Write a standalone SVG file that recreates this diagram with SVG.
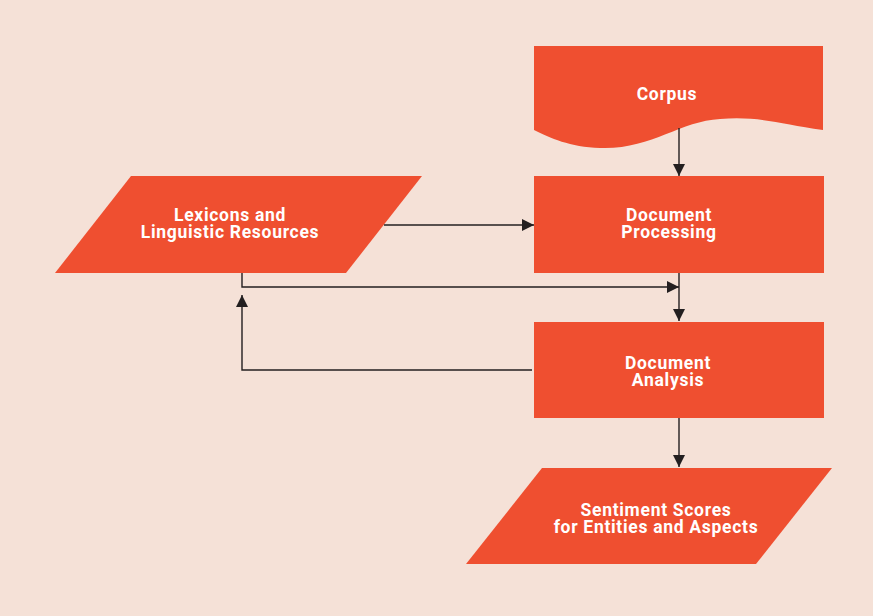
<svg xmlns="http://www.w3.org/2000/svg" width="873" height="616" viewBox="0 0 873 616">
<defs>
<style>
.node{fill:#EF4F30}
.lbl{fill:#FFFFFF;font-family:Roboto,"Liberation Sans",sans-serif;font-weight:700;font-size:17.5px;letter-spacing:0.7px;text-anchor:middle}
.edge{fill:none;stroke:#231F20;stroke-width:1.4}
</style>
<marker id="ah" viewBox="0 0 12 12" refX="12" refY="6" markerWidth="12" markerHeight="12" markerUnits="userSpaceOnUse" orient="auto">
<path d="M0,0 L12,6 L0,12 Z" fill="#231F20"/>
</marker>
</defs>
<rect width="873" height="616" fill="#F5E1D7"/>
<g id="corpus">
<path class="node" d="M534,46 H823 V130 C780,124 760,116 720,119 C680,121 650,150 600,148 C570,147 550,138 534,130 Z"/>
<text class="lbl" x="667" y="100">Corpus</text>
</g>
<g id="lexicons">
<path class="node" d="M131,176 H422 L346,273 H55 Z"/>
<text class="lbl" x="230" y="221">Lexicons and</text>
<text class="lbl" x="230" y="238">Linguistic Resources</text>
</g>
<g id="docproc">
<rect class="node" x="534" y="176" width="290" height="97"/>
<text class="lbl" x="669" y="221">Document</text>
<text class="lbl" x="669" y="238">Processing</text>
</g>
<g id="docanalysis">
<rect class="node" x="534" y="322" width="290" height="96"/>
<text class="lbl" x="668" y="369">Document</text>
<text class="lbl" x="668" y="386">Analysis</text>
</g>
<g id="sentiment">
<path class="node" d="M542,468 H832 L756,564 H466 Z"/>
<text class="lbl" x="656" y="516">Sentiment Scores</text>
<text class="lbl" x="656" y="533">for Entities and Aspects</text>
</g>
<g id="connectors">
<path class="edge" d="M679,128 V176" marker-end="url(#ah)"/>
<path class="edge" d="M384,225 H534" marker-end="url(#ah)"/>
<path class="edge" d="M679,273 V321" marker-end="url(#ah)"/>
<path class="edge" d="M242,273 V287 H679" marker-end="url(#ah)"/>
<path class="edge" d="M532,370 H242 V295" marker-end="url(#ah)"/>
<path class="edge" d="M679,418 V467" marker-end="url(#ah)"/>
</g>
</svg>
